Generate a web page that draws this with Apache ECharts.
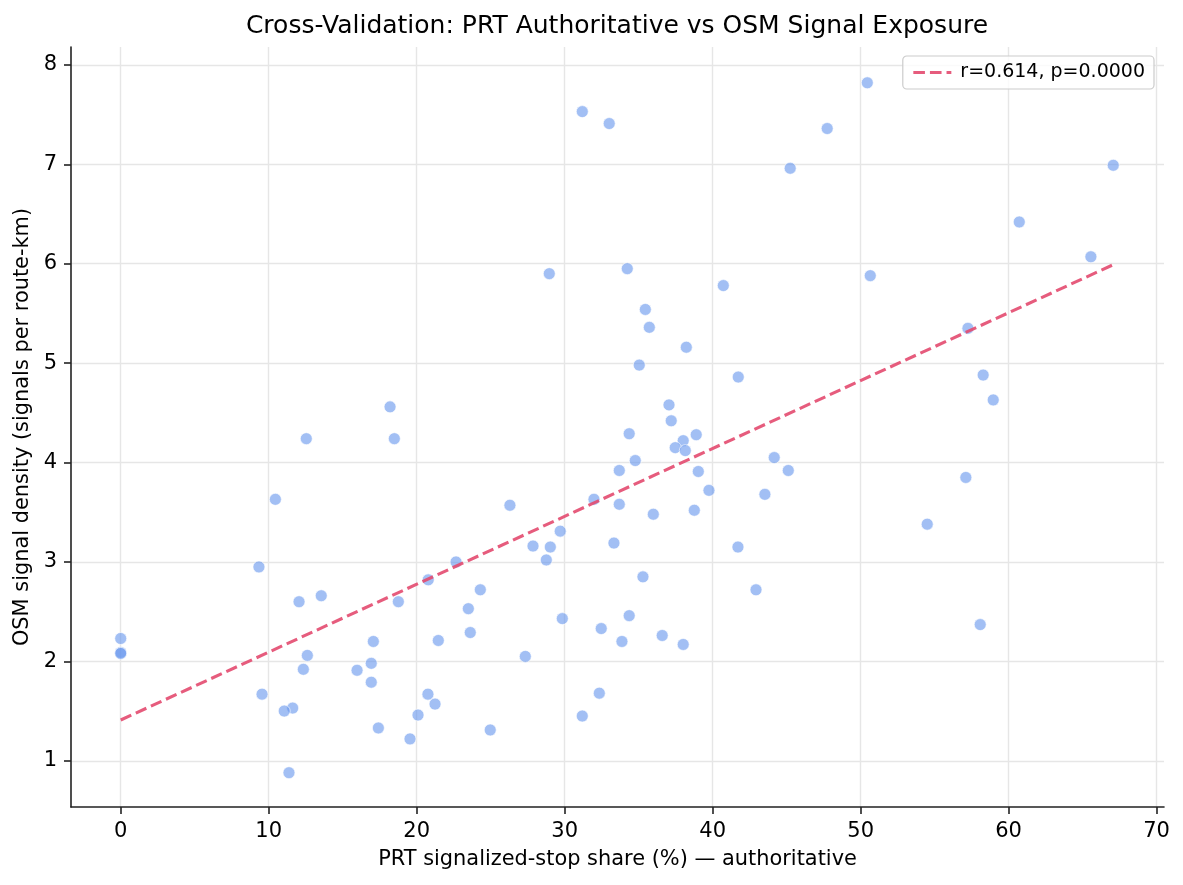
<!DOCTYPE html>
<html>
<head>
<meta charset="utf-8">
<script src="https://cdn.jsdelivr.net/npm/echarts@6/dist/echarts.min.js"></script>
<style>html,body{margin:0;padding:0;background:#fff;}#c{width:1183px;height:885px;}</style>
</head>
<body>
<div id="c"></div>
<script>
const xValues = [31.19,33.01,50.45,47.74,45.24,67.07,60.72,65.56,28.96,34.23,50.65,40.72,35.45,35.72,38.22,57.25,35.04,41.73,58.28,58.96,
18.20,37.05,37.20,12.54,18.49,34.36,38.89,38.01,37.47,38.15,34.77,44.16,33.69,39.03,45.11,39.75,43.53,57.11,10.45,31.98,
26.30,33.69,35.99,38.76,54.50,29.70,27.86,29.03,33.33,28.76,41.71,22.66,9.34,20.78,35.29,24.30,42.93,13.55,12.05,18.76,
23.49,34.36,29.84,58.08,32.47,23.62,36.59,0,17.07,21.46,33.87,38.01,0,0,12.61,27.34,16.93,12.34,15.97,16.93,
9.55,20.76,32.34,11.62,11.05,21.24,20.09,31.19,17.41,24.97,19.55,11.37];
const yValues = [7.53,7.41,7.82,7.36,6.96,6.99,6.42,6.07,5.90,5.95,5.88,5.78,5.54,5.36,5.16,5.35,4.98,4.86,4.88,4.63,
4.56,4.58,4.42,4.24,4.24,4.29,4.28,4.22,4.15,4.12,4.02,4.05,3.92,3.91,3.92,3.72,3.68,3.85,3.63,3.63,
3.57,3.58,3.48,3.52,3.38,3.31,3.16,3.15,3.19,3.02,3.15,3.00,2.95,2.82,2.85,2.72,2.72,2.66,2.60,2.60,
2.53,2.46,2.43,2.37,2.33,2.29,2.26,2.23,2.20,2.21,2.20,2.17,2.09,2.08,2.06,2.05,1.98,1.92,1.91,1.79,
1.67,1.67,1.68,1.53,1.50,1.57,1.46,1.45,1.33,1.31,1.22,0.88];
const fitX = [0, 67.07];
const fitY = [1.41, 5.99];
const xTicks = [0,10,20,30,40,50,60,70];
const yTicks = [1,2,3,4,5,6,7,8];
const fitLabel = 'r=0.614, p=0.0000';

const font = 'DejaVu Sans';
const chart = echarts.init(document.getElementById('c'), null, {renderer:'canvas'});
const axisCommon = {
  axisLine:{show:true, onZero:false, lineStyle:{color:'#222', width:1.6}},
  axisTick:{show:true, length:7, lineStyle:{color:'#222', width:1.6}},
  splitLine:{show:true, lineStyle:{color:'#e6e6e6', width:1.4}},
  nameTextStyle:{fontFamily:font, fontSize:20.9, color:'#000'}
};
const lineColor = '#e34a6f';
chart.setOption({
  animation:false,
  backgroundColor:'#fff',
  title:{text:'Cross-Validation: PRT Authoritative vs OSM Signal Exposure', left:617, textAlign:'center', top:14, padding:0,
    textStyle:{fontFamily:font, fontSize:25, fontWeight:'normal', color:'#000'}},
  grid:{left:71, right:19, top:47, bottom:78, containLabel:false},
  legend:{right:29, top:56, padding:[7,9,7,9], itemWidth:38, itemHeight:14, itemGap:10,
    borderColor:'#cccccc', borderWidth:1.2, borderRadius:4, backgroundColor:'rgba(255,255,255,0.8)',
    itemStyle:{color:'rgba(0,0,0,0)', borderWidth:0, opacity:0},
    lineStyle:{color:lineColor, width:3.1, type:[11.6,5], opacity:0.9},
    textStyle:{fontFamily:font, fontSize:19, color:'#000', padding:[0,0,0,4]}, data:[fitLabel]},
  xAxis:Object.assign({}, axisCommon, {type:'value', min:-3.36, max:70.5,
    name:'PRT signalized-stop share (%) — authoritative', nameLocation:'middle', nameGap:42,
    axisTick:Object.assign({}, axisCommon.axisTick, {customValues:xTicks}),
    axisLabel:{customValues:xTicks, margin:14, fontFamily:font, fontSize:21, color:'#000'}}),
  yAxis:Object.assign({}, axisCommon, {type:'value', min:0.535, max:8.18,
    name:'OSM signal density (signals per route-km)', nameLocation:'middle', nameGap:38,
    axisTick:Object.assign({}, axisCommon.axisTick, {customValues:yTicks}),
    axisLabel:{customValues:yTicks, margin:14, fontFamily:font, fontSize:21, color:'#000'}}),
  series:[
    {type:'scatter', name:'points', data:xValues.map((x,i)=>[x,yValues[i]]), symbolSize:12,
      itemStyle:{color:'rgba(100,149,237,0.75)', borderColor:'#fff', borderWidth:0.8}, z:3},
    {type:'line', name:fitLabel, data:fitX.map((x,i)=>[x,fitY[i]]), symbol:'none', showSymbol:false,
      lineStyle:{color:lineColor, width:3.1, type:[11.6,5], opacity:0.9}, itemStyle:{color:lineColor}, z:4}
  ]
});
</script>
</body>
</html>
